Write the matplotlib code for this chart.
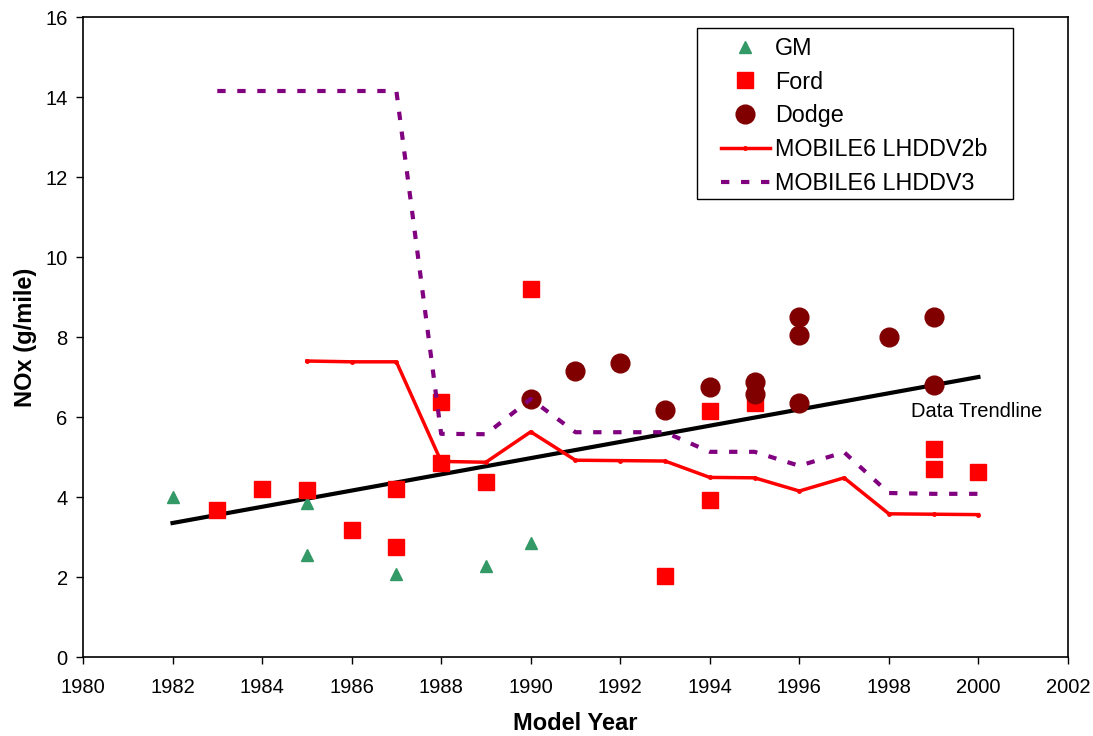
import matplotlib
matplotlib.use("Agg")
import matplotlib.pyplot as plt
from matplotlib.patches import Rectangle

plt.rcParams['font.family'] = ['Liberation Sans', 'DejaVu Sans']

# Measured data
gm_years = [1982, 1985, 1985, 1987, 1989, 1990]
gm_nox = [4.0, 3.85, 2.55, 2.08, 2.28, 2.85]

ford_years = [1983, 1984, 1985, 1986, 1987, 1987, 1988, 1988, 1989, 1990,
              1993, 1994, 1994, 1995, 1999, 1999, 2000]
ford_nox = [3.68, 4.2, 4.18, 3.18, 4.2, 2.75, 6.38, 4.86, 4.38, 9.21,
            2.03, 6.16, 3.93, 6.36, 5.2, 4.7, 4.63]

dodge_years = [1990, 1991, 1992, 1993, 1994, 1995, 1995, 1996, 1996, 1996,
               1998, 1999, 1999]
dodge_nox = [6.45, 7.16, 7.36, 6.18, 6.76, 6.88, 6.58, 8.51, 8.04, 6.36,
             7.99, 8.51, 6.81]

# MOBILE6 model curves
v2b_years = list(range(1985, 2001))
v2b_nox = [7.4, 7.38, 7.38, 4.89, 4.87, 5.63, 4.92, 4.91, 4.9, 4.49,
           4.48, 4.15, 4.48, 3.58, 3.57, 3.56]

v3_years = list(range(1983, 2001))
v3_nox = [14.15, 14.15, 14.15, 14.15, 14.15, 5.58, 5.57, 6.45, 5.62, 5.62,
          5.62, 5.13, 5.13, 4.78, 5.12, 4.1, 4.08, 4.08]

# trendline end points
trend_years = [1982, 2000]
trend_nox = [3.35, 7.0]

fig = plt.figure(figsize=(10.93, 7.36), dpi=100)
ax = fig.add_axes([0.0759, 0.1073, 0.9012, 0.8696])

ax.plot(gm_years, gm_nox, linestyle='none', marker='^', color='#339966',
        markersize=9, label='GM')
ax.plot(ford_years, ford_nox, linestyle='none', marker='s', color='#ff0000',
        markersize=11, label='Ford')
ax.plot(dodge_years, dodge_nox, linestyle='none', marker='o', color='#800000',
        markersize=13.5, label='Dodge')
ax.plot(v2b_years, v2b_nox, color='#ff0000', linewidth=2.5, marker='o',
        markersize=2.5, label='MOBILE6 LHDDV2b')
ax.plot(v3_years, v3_nox, color='#800080', linewidth=3, dashes=(2, 2.8),
        label='MOBILE6 LHDDV3')
ax.plot(trend_years, trend_nox, color='black', linewidth=3, zorder=1.5)

ax.text(1998.5, 6.15, 'Data Trendline', fontsize=14.5, va='center', ha='left')

ax.set_xlim(1980, 2002)
ax.set_ylim(0, 16)
ax.set_xticks(range(1980, 2003, 2))
ax.set_yticks(range(0, 17, 2))
ax.tick_params(direction='out', length=5, width=1, labelsize=14.5, colors='black')
ax.tick_params(axis='x', pad=10)
ax.tick_params(axis='y', pad=6)
for s in ax.spines.values():
    s.set_linewidth(1.2)

ax.set_xlabel('Model Year', fontsize=17, fontweight='bold', labelpad=11)
ax.set_ylabel('NOx (g/mile)', fontsize=17, fontweight='bold', labelpad=6)

# legend box drawn separately so the padding matches the original
ax.add_patch(Rectangle((0.6235, 0.7155), 0.321, 0.2675, transform=ax.transAxes,
                       facecolor='white', edgecolor='black', linewidth=1.0,
                       zorder=4))
leg = ax.legend(loc='upper left', bbox_to_anchor=(0.6476, 0.969), fontsize=16.8,
                frameon=False, borderpad=0, borderaxespad=0,
                handlelength=2.1, labelspacing=0.46, handletextpad=0.22)
leg.set_zorder(5)

fig.savefig('out.png', dpi=100)
